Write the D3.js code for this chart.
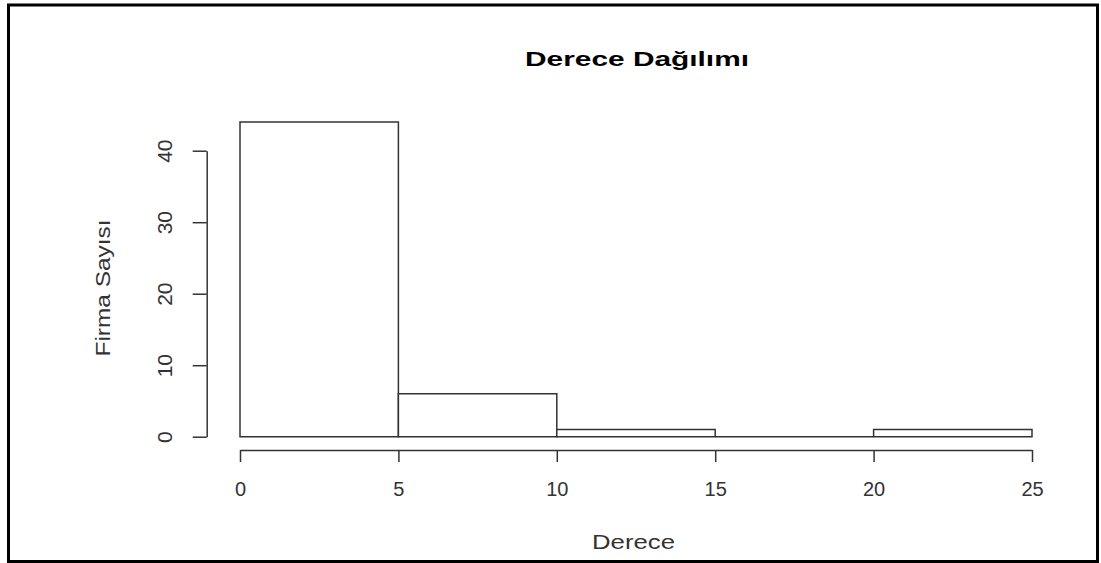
<!DOCTYPE html>
<html>
<head>
<meta charset="utf-8">
<title>Derece Dağılımı</title>
<script src="https://d3js.org/d3.v7.min.js"></script>
<style>
  body { margin: 0; background: #fff; }
  text { font-family: "Liberation Sans", Arial, sans-serif; fill: #333; }
</style>
</head>
<body>
<script>
// histogram bins and counts
var binEdges = [0, 5, 10, 15, 20, 25];
var counts = [44, 6, 1, 0, 1];
var xTicks = [0, 5, 10, 15, 20, 25];
var yTicks = [0, 10, 20, 30, 40];

var width = 1101, height = 563;

var svg = d3.select("body").append("svg")
    .attr("width", width)
    .attr("height", height);

svg.append("rect")
    .attr("width", width).attr("height", height)
    .attr("fill", "#fff");

// outer frame
svg.append("rect")
    .attr("x", 8.5).attr("y", 5)
    .attr("width", 1097.5 - 8.5).attr("height", 561.5 - 5)
    .attr("fill", "none")
    .attr("stroke", "#000")
    .attr("stroke-width", 3);

var x = d3.scaleLinear().domain([0, 25]).range([240, 1032]);
var y = d3.scaleLinear().domain([0, 40]).range([436.7, 150.7]);

// bars (drawn as paths so an empty bin still shows its base line)
var bins = counts.map(function(c, i) { return { x0: binEdges[i], x1: binEdges[i + 1], n: c }; });
svg.selectAll("path.bar")
    .data(bins)
    .enter()
    .append("path")
    .attr("class", "bar")
    .attr("d", function(d) {
      return "M" + x(d.x0) + "," + y(0) + "V" + y(d.n) + "H" + x(d.x1) + "V" + y(0) + "Z";
    })
    .attr("fill", "#fff")
    .attr("stroke", "#333")
    .attr("stroke-width", 1.5);

// x axis
var xAxis = svg.append("g")
    .attr("transform", "translate(0,450)")
    .call(d3.axisBottom(x).tickValues(xTicks).tickSize(12).tickSizeOuter(0).tickPadding(0));
xAxis.attr("color", "#333").attr("font-size", null).attr("font-family", null);
xAxis.selectAll("line, path").attr("stroke-width", 1.5);
xAxis.selectAll("text")
    .attr("y", 45.5)
    .attr("dy", 0)
    .style("font-size", "20px")
    .style("fill", "#333");

// y axis, labels turned like R does
var yAxis = svg.append("g")
    .attr("transform", "translate(206.7,0)")
    .call(d3.axisLeft(y).tickValues(yTicks).tickSize(14).tickSizeOuter(0));
yAxis.attr("color", "#333").attr("font-size", null).attr("font-family", null);
yAxis.selectAll("line, path").attr("stroke-width", 1.5);
yAxis.selectAll("text")
    .attr("transform", "rotate(-90)")
    .attr("x", 0)
    .attr("y", -34.7)
    .attr("dy", 0)
    .attr("text-anchor", "middle")
    .style("font-size", "21px")
    .style("fill", "#333");

// title and axis labels
svg.append("text")
    .attr("x", 637).attr("y", 66)
    .attr("text-anchor", "middle")
    .attr("font-weight", "bold")
    .attr("font-size", 20)
    .attr("textLength", 224)
    .attr("lengthAdjust", "spacingAndGlyphs")
    .style("fill", "#000")
    .text("Derece Dağılımı");

svg.append("text")
    .attr("x", 633.5).attr("y", 548.5)
    .attr("text-anchor", "middle")
    .attr("font-size", 21)
    .attr("textLength", 83)
    .attr("lengthAdjust", "spacingAndGlyphs")
    .text("Derece");

svg.append("text")
    .attr("transform", "translate(110,288) rotate(-90)")
    .attr("text-anchor", "middle")
    .attr("font-size", 20)
    .attr("textLength", 137)
    .attr("lengthAdjust", "spacingAndGlyphs")
    .text("Firma Sayısı");
</script>
</body>
</html>
